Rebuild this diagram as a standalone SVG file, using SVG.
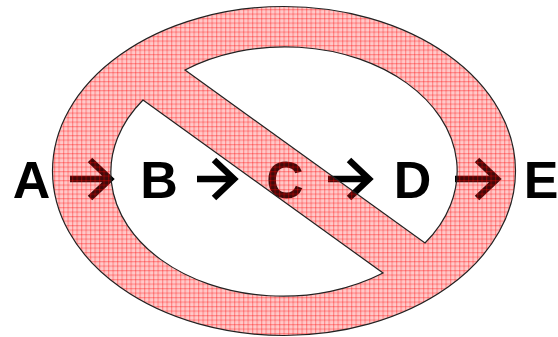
<svg xmlns="http://www.w3.org/2000/svg" width="558" height="337" viewBox="0 0 558 337">
<style>
.lbl{font-family:"Liberation Sans",Arial,sans-serif;font-weight:bold;font-size:52px;fill:#000;text-anchor:middle}
.arr{fill:none;stroke:#000;stroke-width:6.5;stroke-linejoin:miter;stroke-miterlimit:10}
.ring{fill:url(#grid);fill-rule:evenodd;stroke:#222;stroke-width:1.2}
</style>
<defs>
<pattern id="grid" patternUnits="userSpaceOnUse" width="4.5" height="4.5">
<rect width="4.5" height="4.5" fill="rgb(255,40,40)" opacity="0.25"/>
<rect x="0" y="0" width="4.5" height="1.2" fill="#ff0000" opacity="0.32"/>
<rect x="0" y="0" width="1.2" height="4.5" fill="#ff0000" opacity="0.32"/>
</pattern>
</defs>
<g id="node-A"><text class="lbl" x="31.5" y="198">A</text></g>
<g id="node-B"><text class="lbl" x="159" y="198">B</text></g>
<g id="node-C"><text class="lbl" x="285" y="198">C</text></g>
<g id="node-D"><text class="lbl" x="412.5" y="198">D</text></g>
<g id="node-E"><text class="lbl" x="541" y="198">E</text></g>
<g id="connectors">
<path class="arr" d="M70,179 H110 M90,160 L110,179 L90,198"/>
<path class="arr" d="M197,179 H234 M214,160 L234,179 L214,198"/>
<path class="arr" d="M328,179 H369 M349,160 L369,179 L349,198"/>
<path class="arr" d="M455,179 H497 M477,160 L497,179 L477,198"/>
</g>
<g id="no-sign">
<path class="ring" d="M52.5,171 A231.5,164.5 0 1 1 515.5,171 A231.5,164.5 0 1 1 52.5,171 Z M143,100 L383,273 A172,124 0 0 1 143,100 Z M185,70 L425,243 A172,124 0 0 0 185,70 Z"/>
</g>
</svg>
